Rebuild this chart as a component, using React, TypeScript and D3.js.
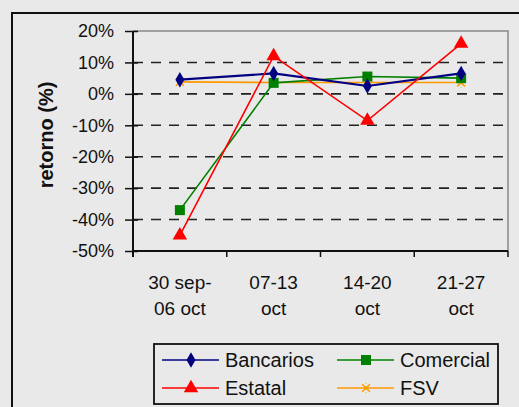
import React, { useRef, useEffect } from 'react';
import * as d3 from 'd3';

const categories = ['30 sep-|06 oct', '07-13|oct', '14-20|oct', '21-27|oct'];
const bancarios = [4.5, 6.5, 2.5, 6.5];
const comercial = [-37, 3.5, 5.5, 5];
const estatal = [-45, 12, -8.5, 16];
const fsv = [3.8, 3.6, 3.6, 3.6];
const yTicks = [20, 10, 0, -10, -20, -30, -40, -50];

const seriesList = [
  { name: 'Bancarios', values: bancarios, color: '#000080', marker: 'diamond' },
  { name: 'Comercial', values: comercial, color: '#008000', marker: 'square' },
  { name: 'Estatal', values: estatal, color: '#ff0000', marker: 'triangle' },
  { name: 'FSV', values: fsv, color: '#ff9900', marker: 'star' },
];

function drawMarker(g, type, x, y, color) {
  if (type === 'diamond') {
    g.append('path').attr('d', d3.symbol(d3.symbolDiamond, 70)()).attr('transform', `translate(${x},${y})`).attr('fill', color);
  } else if (type === 'square') {
    g.append('rect').attr('x', x - 5).attr('y', y - 5).attr('width', 10).attr('height', 10).attr('fill', color);
  } else if (type === 'triangle') {
    g.append('path').attr('d', d3.symbol(d3.symbolTriangle, 90)()).attr('transform', `translate(${x},${y})`).attr('fill', color);
  } else {
    g.append('path').attr('d', d3.symbol(d3.symbolTimes, 40)()).attr('transform', `translate(${x},${y})`)
      .attr('fill', 'none').attr('stroke', color).attr('stroke-width', 1.5);
    g.append('path').attr('d', `M${x},${y - 5}V${y + 5}`).attr('stroke', '#cccc00').attr('stroke-width', 1).attr('stroke-dasharray', '1 2');
  }
}

function RetornoChart() {
  const svgRef = useRef();

  useEffect(() => {
    const svg = d3.select(svgRef.current);
    svg.selectAll('*').remove();
    const width = 519, height = 407;
    const plot = { left: 133, right: 508, top: 31, bottom: 251 };

    svg.append('rect').attr('width', width).attr('height', height).attr('fill', '#e9e9e9');
    // outer frame
    svg.append('path').attr('d', `M12,${height + 5}V13H${width + 5}`).attr('fill', 'none').attr('stroke', '#111').attr('stroke-width', 2);

    const x = d3.scaleBand().domain(categories).range([plot.left, plot.right]);
    const y = d3.scaleLinear().domain([-50, 20]).range([plot.bottom, plot.top]);

    // plot border (gray)
    svg.append('path').attr('d', `M${plot.left},${plot.top}H${plot.right}V${plot.bottom}`)
      .attr('fill', 'none').attr('stroke', '#888').attr('stroke-width', 1.5);

    // gridlines
    svg.append('g').selectAll('line').data(yTicks.filter(t => t < 20 && t > -50)).enter().append('line')
      .attr('x1', plot.left).attr('x2', plot.right)
      .attr('y1', d => y(d)).attr('y2', d => y(d))
      .attr('stroke', '#222').attr('stroke-width', 1.6).attr('stroke-dasharray', '10 8');

    // y axis
    const yAxis = svg.append('g').attr('transform', `translate(${plot.left},0)`)
      .call(d3.axisLeft(y).tickValues(yTicks).tickSize(8).tickFormat(d => `${d}%`));
    yAxis.select('.domain').remove();
    yAxis.selectAll('.tick line').attr('x2', 5).attr('x1', -8).attr('stroke', '#111').attr('stroke-width', 1.5);
    yAxis.selectAll('.tick text').attr('x', -19).attr('font-family', 'Arial, "Liberation Sans", sans-serif')
      .attr('font-size', 18).attr('fill', '#111');
    svg.append('line').attr('x1', plot.left).attr('x2', plot.left).attr('y1', plot.top).attr('y2', plot.bottom + 6)
      .attr('stroke', '#111').attr('stroke-width', 2);

    // x axis
    svg.append('line').attr('x1', plot.left).attr('x2', plot.right).attr('y1', plot.bottom).attr('y2', plot.bottom)
      .attr('stroke', '#111').attr('stroke-width', 2);
    const bounds = categories.map(c => x(c) + x.bandwidth());
    svg.append('g').selectAll('line').data(bounds).enter().append('line')
      .attr('x1', d => d).attr('x2', d => d).attr('y1', plot.bottom).attr('y2', plot.bottom + 6)
      .attr('stroke', '#111').attr('stroke-width', 1.5);
    const xl = svg.append('g').selectAll('text').data(categories).enter().append('text')
      .attr('text-anchor', 'middle')
      .attr('font-family', 'Arial, "Liberation Sans", sans-serif').attr('font-size', 19).attr('fill', '#111');
    xl.each(function (d) {
      const t = d3.select(this);
      const cx = x(d) + x.bandwidth() / 2;
      d.split('|').forEach((line, i) => {
        t.append('tspan').attr('x', cx).attr('y', 289 + i * 26).text(line);
      });
    });

    // y title
    svg.append('text').attr('transform', 'translate(53,135) rotate(-90)').attr('text-anchor', 'middle')
      .attr('font-family', 'Arial, "Liberation Sans", sans-serif').attr('font-weight', 'bold').attr('font-size', 20)
      .attr('fill', '#111').text('retorno (%)');

    // series
    const line = d3.line().x((d, i) => x(categories[i]) + x.bandwidth() / 2).y(d => y(d));
    const order = [seriesList[3], seriesList[1], seriesList[0], seriesList[2]];
    order.forEach(s => {
      const g = svg.append('g');
      g.append('path').attr('d', line(s.values)).attr('fill', 'none').attr('stroke', s.color)
        .attr('stroke-width', s.name === 'Bancarios' ? 2.2 : 1.6);
      s.values.forEach((v, i) => drawMarker(g, s.marker, x(categories[i]) + x.bandwidth() / 2, y(v), s.color));
    });

    // legend
    const leg = svg.append('g');
    leg.append('rect').attr('x', 154).attr('y', 344).attr('width', 344).attr('height', 60)
      .attr('fill', 'none').attr('stroke', '#111').attr('stroke-width', 1.8);
    const pos = [[162, 360], [337, 360], [162, 388], [337, 388]];
    const legOrder = [seriesList[0], seriesList[1], seriesList[2], seriesList[3]];
    legOrder.forEach((s, i) => {
      const [lx, ly] = pos[i];
      leg.append('line').attr('x1', lx).attr('x2', lx + 57).attr('y1', ly).attr('y2', ly)
        .attr('stroke', s.color).attr('stroke-width', 1.6);
      drawMarker(leg, s.marker, lx + 29, ly, s.color);
      leg.append('text').attr('x', lx + 63).attr('y', ly).attr('dy', '0.36em')
        .attr('font-family', 'Arial, "Liberation Sans", sans-serif').attr('font-size', 20).attr('fill', '#111')
        .text(s.name);
    });
  }, []);

  return (
    <svg ref={svgRef} width={519} height={407} style={{ position: 'absolute', left: 0, top: 0 }}></svg>
  );
}

export default function App() {
  return <RetornoChart />;
}
